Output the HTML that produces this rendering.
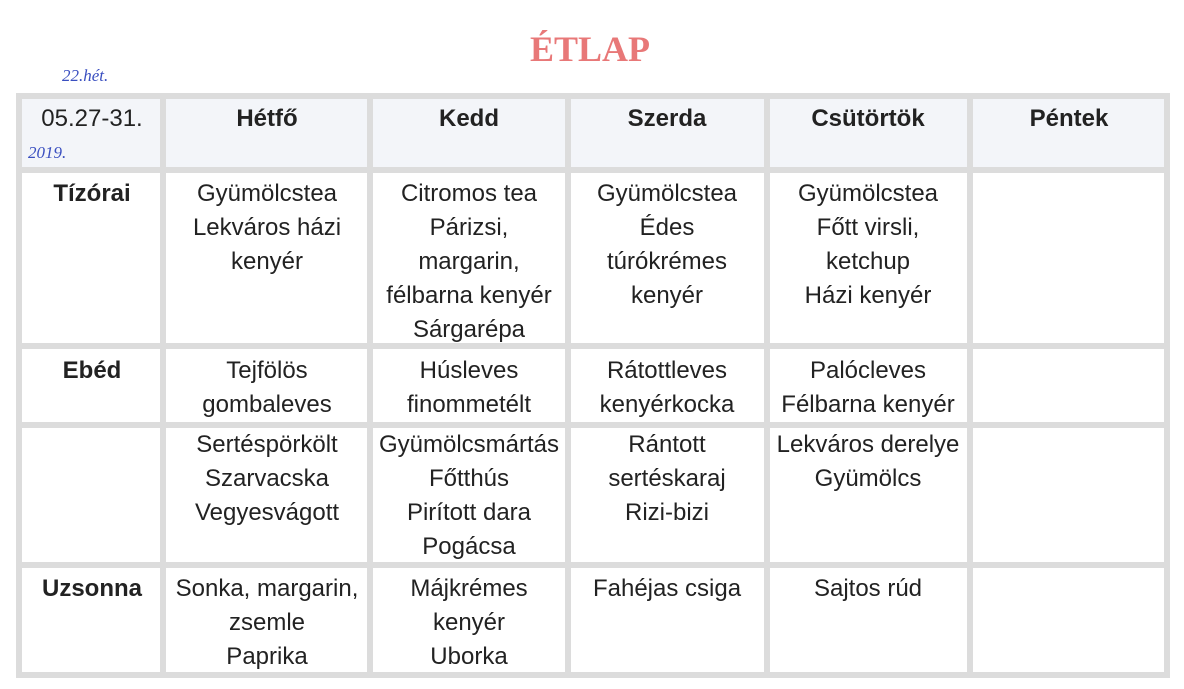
<!DOCTYPE html>
<html><head><meta charset="utf-8"><style>
body{margin:0;width:1184px;height:689px;background:#fff;position:relative;overflow:hidden;font-family:"Liberation Sans",sans-serif;color:#222}
.t{position:absolute;text-align:center;font-size:24px;line-height:34px;transform:translateX(-50%);white-space:nowrap}
.b{font-weight:bold}
.h{position:absolute;background:#dcdcdc}
.v{position:absolute;background:#dcdcdc}
</style></head><body>
<div style="position:absolute;left:18px;top:95px;width:1150px;height:75px;background:#f3f5f9"></div>
<div class="t b" style="left:590px;top:27px;font-family:'Liberation Serif',serif;font-size:36px;color:#e87878;line-height:44px">ÉTLAP</div>
<div style="position:absolute;left:62px;top:66px;font-size:17px;color:#3a4fc0;font-style:italic;font-family:'Liberation Serif',serif">22.hét.</div>
<div style="position:absolute;left:28px;top:143px;font-size:17px;color:#3a4fc0;font-style:italic;font-family:'Liberation Serif',serif">2019.</div>
<div class="h" style="left:16px;top:93px;width:1154px;height:6px"></div>
<div class="h" style="left:16px;top:167px;width:1154px;height:6px"></div>
<div class="h" style="left:16px;top:343px;width:1154px;height:6px"></div>
<div class="h" style="left:16px;top:422px;width:1154px;height:6px"></div>
<div class="h" style="left:16px;top:562px;width:1154px;height:6px"></div>
<div class="h" style="left:16px;top:672px;width:1154px;height:6px"></div>
<div class="v" style="left:16px;top:93px;width:6px;height:585px"></div>
<div class="v" style="left:160px;top:93px;width:6px;height:585px"></div>
<div class="v" style="left:367px;top:93px;width:6px;height:585px"></div>
<div class="v" style="left:565px;top:93px;width:6px;height:585px"></div>
<div class="v" style="left:764px;top:93px;width:6px;height:585px"></div>
<div class="v" style="left:967px;top:93px;width:6px;height:585px"></div>
<div class="v" style="left:1164px;top:93px;width:6px;height:585px"></div>
<div class="t" style="left:92px;top:102px">05.27-31.</div>
<div class="t b" style="left:267px;top:102px">Hétfő</div>
<div class="t b" style="left:469px;top:102px">Kedd</div>
<div class="t b" style="left:667px;top:102px">Szerda</div>
<div class="t b" style="left:868px;top:102px">Csütörtök</div>
<div class="t b" style="left:1069px;top:102px">Péntek</div>
<div class="t b" style="left:92px;top:177px">Tízórai</div>
<div class="t" style="left:267px;top:177px">Gyümölcstea<br>Lekváros házi<br>kenyér</div>
<div class="t" style="left:469px;top:177px">Citromos tea<br>Párizsi,<br>margarin,<br>félbarna kenyér<br>Sárgarépa</div>
<div class="t" style="left:667px;top:177px">Gyümölcstea<br>Édes<br>túrókrémes<br>kenyér</div>
<div class="t" style="left:868px;top:177px">Gyümölcstea<br>Főtt virsli,<br>ketchup<br>Házi kenyér</div>
<div class="t b" style="left:92px;top:354px">Ebéd</div>
<div class="t" style="left:267px;top:354px">Tejfölös<br>gombaleves</div>
<div class="t" style="left:469px;top:354px">Húsleves<br>finommetélt</div>
<div class="t" style="left:667px;top:354px">Rátottleves<br>kenyérkocka</div>
<div class="t" style="left:868px;top:354px">Palócleves<br>Félbarna kenyér</div>
<div class="t" style="left:267px;top:428px">Sertéspörkölt<br>Szarvacska<br>Vegyesvágott</div>
<div class="t" style="left:469px;top:428px">Gyümölcsmártás<br>Főtthús<br>Pirított dara<br>Pogácsa</div>
<div class="t" style="left:667px;top:428px">Rántott<br>sertéskaraj<br>Rizi-bizi</div>
<div class="t" style="left:868px;top:428px">Lekváros derelye<br>Gyümölcs</div>
<div class="t b" style="left:92px;top:572px">Uzsonna</div>
<div class="t" style="left:267px;top:572px">Sonka, margarin,<br>zsemle<br>Paprika</div>
<div class="t" style="left:469px;top:572px">Májkrémes<br>kenyér<br>Uborka</div>
<div class="t" style="left:667px;top:572px">Fahéjas csiga</div>
<div class="t" style="left:868px;top:572px">Sajtos rúd</div>
</body></html>
